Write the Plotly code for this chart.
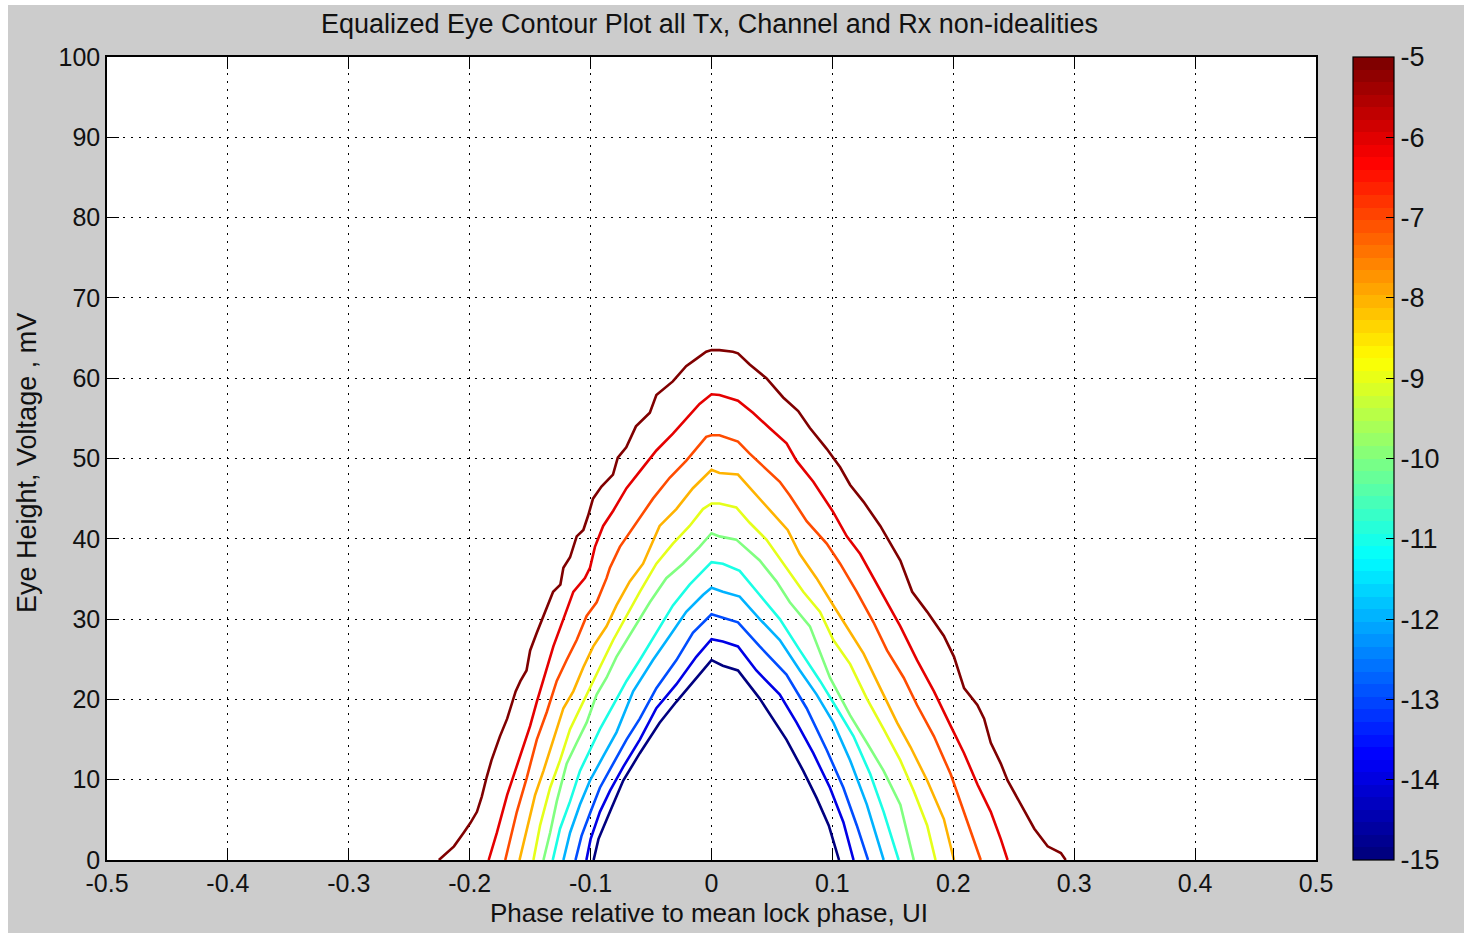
import plotly.graph_objects as go

# ---------------- data ----------------
levels = [-5, -6, -7, -8, -9, -10, -11, -12, -13, -14, -15]

x_ticks = [-0.5, -0.4, -0.3, -0.2, -0.1, 0, 0.1, 0.2, 0.3, 0.4, 0.5]
x_tick_text = ["-0.5", "-0.4", "-0.3", "-0.2", "-0.1", "0", "0.1", "0.2", "0.3", "0.4", "0.5"]
y_ticks = [0, 10, 20, 30, 40, 50, 60, 70, 80, 90, 100]
y_tick_text = ["0", "10", "20", "30", "40", "50", "60", "70", "80", "90", "100"]
cb_ticks = [-5, -6, -7, -8, -9, -10, -11, -12, -13, -14, -15]
cb_tick_text = ["-5", "-6", "-7", "-8", "-9", "-10", "-11", "-12", "-13", "-14", "-15"]

# contour level -5
x_m5 = [-0.2255, -0.213, -0.205, -0.1995, -0.194, -0.19, -0.186, -0.182, -0.175, -0.169, -0.162, -0.158,
        -0.153, -0.15, -0.1445, -0.139, -0.135, -0.131, -0.125, -0.1225, -0.117, -0.1115, -0.106, -0.102,
        -0.098, -0.091, -0.0815, -0.0775, -0.0705, -0.0625, -0.051, -0.0456, -0.032, -0.021, -0.0126,
        -0.0044, 0.0,
        0.0066, 0.0177, 0.0219, 0.0316, 0.0454, 0.0593, 0.0717, 0.0814, 0.0953, 0.1064, 0.1147, 0.1258,
        0.1396, 0.1562, 0.166, 0.1784, 0.1922, 0.2006, 0.2089, 0.2199, 0.2255, 0.231, 0.2393, 0.2449,
        0.256, 0.267, 0.278, 0.289, 0.293]
y_m5 = [0, 1.7, 3.4, 4.6, 6, 7.9, 10.3, 12.4, 15.4, 17.6, 21, 22.3,
        23.6, 26.1, 28.3, 30.4, 31.7, 33.4, 34.3, 36.4, 37.7, 40.3, 41.1, 42.9,
        45, 46.5, 48, 50.1, 51.4, 54, 55.7, 57.9, 59.6, 61.5, 62.4,
        63.3, 63.5,
        63.5, 63.3, 63.1, 61.7, 60, 57.6, 55.9, 53.8, 51.2, 48.9, 46.7, 44.6,
        41.6, 37.3, 33.4, 30.9, 27.9, 25.3, 21.4, 19.3, 17.6, 14.6, 12, 9.9,
        6.9, 3.9, 1.7, 0.86, 0]

# contour level -6
x_m6 = [-0.1843, -0.1775, -0.169, -0.1596, -0.15, -0.1445, -0.1376, -0.1308, -0.1225, -0.1143, -0.1047,
        -0.1005, -0.0964, -0.0896, -0.0813, -0.0703, -0.0593, -0.0456, -0.0319, -0.0209, -0.0099, 0.0,
        0.0066, 0.0219, 0.0343, 0.048, 0.0621, 0.0704, 0.0842, 0.1008, 0.1119, 0.123, 0.134, 0.1452,
        0.1562, 0.17, 0.184, 0.1978, 0.2089, 0.22, 0.231, 0.2393, 0.2449]
y_m6 = [0, 3.4, 8.1, 12.4, 16.7, 19.7, 23.1, 26.6, 30, 33.4, 35.1,
        36.4, 39, 41.6, 43.5, 46.3, 48.4, 51, 53.1, 54.9, 56.8, 58,
        57.9, 57.2, 55.7, 53.8, 51.9, 49.7, 47.1, 43.3, 40.3, 38.1, 35.1, 32.1,
        29.1, 24.9, 21, 16.7, 13.3, 9.4, 6, 2.6, 0]

# contour level -7
x_m7 = [-0.1706, -0.1665, -0.161, -0.1527, -0.1445, -0.1363, -0.128, -0.1198, -0.1115, -0.1033, -0.095,
        -0.0868, -0.084, -0.0758, -0.062, -0.0484, -0.0346, -0.021, -0.0044, 0.0,
        0.0066, 0.0219, 0.0316, 0.0454, 0.0565, 0.0648, 0.0787, 0.0953, 0.1064, 0.1202, 0.134, 0.1452,
        0.159, 0.17, 0.184, 0.1978, 0.2089, 0.2172, 0.2227]
y_m7 = [0, 2.6, 6, 10.3, 15, 18.4, 22.3, 24.9, 27.4, 30.4, 32.1,
        35.1, 36.4, 39, 42, 45, 47.6, 49.7, 52.7, 52.9,
        52.9, 52.1, 50.6, 48.6, 47.1, 45.4, 42.2, 39.4, 36.9, 33.4, 29.6, 26.1,
        22.7, 19.3, 15.4, 10.7, 6, 2.6, 0]

# contour level -8
x_m8 = [-0.1588, -0.1527, -0.1459, -0.139, -0.1308, -0.1225, -0.1143, -0.106, -0.0978, -0.0868, -0.0786,
        -0.0676, -0.0566, -0.0429, -0.0291, -0.0154, 0.0,
        0.0066, 0.0219, 0.0343, 0.048, 0.063, 0.073, 0.0869, 0.1008, 0.1119, 0.1258, 0.1396, 0.1535,
        0.1645, 0.1784, 0.1922, 0.2006]
y_m8 = [0, 3.9, 8.1, 11.1, 15, 18.9, 21, 24, 26.6, 29.1, 31.7,
        34.7, 36.9, 41.6, 43.7, 46.3, 48.6,
        48.2, 48, 45.9, 43.7, 41.1, 38.1, 35.1, 31.7, 29.1, 25.7, 21.4, 17.1,
        14.1, 9.9, 5.1, 0]

# contour level -9
x_m9 = [-0.1473, -0.1418, -0.1335, -0.1253, -0.117, -0.1088, -0.1005, -0.0923, -0.0813, -0.0703, -0.0593,
        -0.0456, -0.0319, -0.0181, -0.0071, 0.0,
        0.0066, 0.0205, 0.0316, 0.0454, 0.062, 0.0759, 0.0898, 0.1008, 0.1147, 0.1285, 0.1424, 0.1562,
        0.1673, 0.1784, 0.1853]
y_m9 = [0, 4.3, 9, 12.4, 16.3, 18.9, 21.4, 24, 27.4, 30.4, 33.4,
        36.9, 39.4, 41.6, 43.7, 44.4,
        44.4, 43.9, 42, 39.9, 36.4, 33.4, 30.9, 27.4, 24.4, 20.1, 16.3, 12.4,
        8.6, 4.3, 0]

# contour level -10
x_m10 = [-0.139, -0.1335, -0.128, -0.1198, -0.1115, -0.1033, -0.095, -0.0868, -0.0786, -0.0648, -0.051,
         -0.0374, -0.0236, -0.0099, 0.0,
         0.0066, 0.0205, 0.0399, 0.0537, 0.0648, 0.0814, 0.098, 0.1147, 0.1285, 0.1424, 0.1562, 0.1673]
y_m10 = [0, 3.4, 7.3, 12, 14.6, 17.1, 20.6, 22.7, 25.3, 28.7, 32.1,
         35.1, 36.9, 39, 40.7,
         40.3, 39.9, 37.3, 34.7, 32.1, 29.1, 22.7, 18, 14.6, 11.1, 6.9, 0]

# contour level -11
x_m11 = [-0.1313, -0.1253, -0.117, -0.1088, -0.1005, -0.0923, -0.0813, -0.0703, -0.0593, -0.0456, -0.0319,
         -0.0181, -0.0071, 0.0,
         0.0094, 0.0233, 0.0399, 0.0565, 0.0731, 0.0898, 0.1036, 0.1175, 0.1313, 0.1424, 0.1548]
y_m11 = [0, 3.9, 7.3, 11.1, 13.7, 16.3, 19.3, 22.3, 24.9, 28.3, 31.7,
         34.3, 36, 37.1,
         36.9, 36, 33, 30, 26.1, 22.3, 18.9, 15.4, 10.7, 6, 0]

# contour level -12
x_m12 = [-0.1225, -0.117, -0.1088, -0.1005, -0.0896, -0.0786, -0.0648, -0.0484, -0.0346, -0.0209, -0.0071,
         0.0,
         0.0094, 0.0233, 0.0399, 0.0565, 0.0731, 0.087, 0.1008, 0.1147, 0.1285, 0.1424]
y_m12 = [0, 3.4, 6.9, 9.9, 12.9, 15.9, 21, 24.9, 27.9, 30.9, 33,
         33.9,
         33.4, 32.8, 30, 27.4, 23.6, 20.6, 17.1, 12.4, 6.9, 0]

# contour level -13
x_m13 = [-0.1125, -0.1075, -0.1, -0.0923, -0.0813, -0.0703, -0.0593, -0.0456, -0.029, -0.0154, 0.0,
         0.0094, 0.0219, 0.0399, 0.062, 0.0787, 0.0953, 0.1091, 0.1202, 0.1295]
y_m13 = [0, 3, 6, 9, 12, 15, 17.6, 21.4, 24.9, 28.3, 30.6,
         30.2, 29.6, 26.6, 23.1, 18.9, 13.7, 9, 4.3, 0]

# contour level -14
x_m14 = [-0.1035, -0.1, -0.0923, -0.084, -0.073, -0.0593, -0.0456, -0.029, -0.0126, 0.0,
         0.0094, 0.0219, 0.0371, 0.0565, 0.0704, 0.0842, 0.098, 0.1091, 0.1175]
y_m14 = [0, 2.6, 6, 8.6, 11.6, 15, 18.9, 21.9, 25.3, 27.5,
         27.2, 26.6, 23.6, 20.6, 17.1, 13.3, 9, 4.7, 0]

# contour level -15
x_m15 = [-0.0975, -0.0935, -0.084, -0.073, -0.0593, -0.0429, -0.0291, -0.0126, 0.0,
         0.0094, 0.0219, 0.0399, 0.062, 0.0759, 0.087, 0.097, 0.1055]
y_m15 = [0, 2.6, 6, 9.9, 13.3, 17.1, 19.7, 22.7, 24.9,
         24.2, 23.6, 20.1, 15, 11.1, 7.7, 4.3, 0]

contour_x = [x_m5, x_m6, x_m7, x_m8, x_m9, x_m10, x_m11, x_m12, x_m13, x_m14, x_m15]
contour_y = [y_m5, y_m6, y_m7, y_m8, y_m9, y_m10, y_m11, y_m12, y_m13, y_m14, y_m15]

# ---------------- style ----------------
CMIN, CMAX = -15, -5
FONT = "Liberation Sans, Arial, Helvetica, sans-serif"
FS = 27
FS_TICK = 25
TXT = "#111111"
BG = "#cccccc"


def jet(t):
    def c(v):
        return max(0.0, min(1.0, v))
    r = c(1.5 - abs(4 * t - 3))
    g = c(1.5 - abs(4 * t - 2))
    b = c(1.5 - abs(4 * t - 1))
    return "rgb(%d,%d,%d)" % (round(r * 255), round(g * 255), round(b * 255))


N = 64
colorscale = []
for i in range(N):
    col = jet(i / (N - 1))
    colorscale.append([i / N, col])
    colorscale.append([(i + 1) / N, col])

fig = go.Figure()

for lvl, xs, ys in zip(levels, contour_x, contour_y):
    t = (lvl - CMIN) / (CMAX - CMIN)
    fig.add_trace(go.Scatter(
        x=xs, y=ys, mode="lines",
        line=dict(color=jet(t), width=2.6),
        showlegend=False, hoverinfo="skip",
    ))

# colorbar carrier
fig.add_trace(go.Scatter(
    x=[None], y=[None], mode="markers",
    marker=dict(
        color=[CMIN], cmin=CMIN, cmax=CMAX, colorscale=colorscale, showscale=True,
        colorbar=dict(
            x=(1353 - 107) / 1209, xanchor="left", xpad=0,
            y=0.5, yanchor="middle", len=1, lenmode="fraction", ypad=0,
            thickness=41, thicknessmode="pixels",
            outlinecolor="#000000", outlinewidth=1.2,
            tickmode="array", tickvals=cb_ticks, ticktext=cb_tick_text,
            ticks="inside", ticklen=8, tickcolor="#000000", tickwidth=1,
            tickfont=dict(family=FONT, size=FS, color=TXT),
        ),
    ),
    showlegend=False, hoverinfo="skip",
))

axis_common = dict(
    showline=True, linecolor="#000000", linewidth=1.5, mirror="allticks",
    ticks="inside", ticklen=12, tickwidth=1, tickcolor="#000000",
    showgrid=True, gridcolor="#000000", gridwidth=1, griddash="2px,6px",
    zeroline=False, tickfont=dict(family=FONT, size=FS_TICK, color=TXT),
)

fig.update_xaxes(range=[-0.5, 0.5], tickmode="array", tickvals=x_ticks, ticktext=x_tick_text,
                 **axis_common)
fig.update_yaxes(range=[0, 100], tickmode="array", tickvals=y_ticks, ticktext=y_tick_text,
                 **axis_common)

PW, PH = 1209, 803


def px_x(p):
    return (p - 107) / PW


def px_y(p):
    return (860 - p) / PH


fig.update_layout(
    width=1464, height=933,
    margin=dict(l=107, r=148, t=57, b=73, pad=0),
    paper_bgcolor=BG, plot_bgcolor="#ffffff",
    font=dict(family=FONT, size=FS, color=TXT),
    showlegend=False,
    shapes=[
        dict(type="rect", xref="paper", yref="paper", layer="below",
             x0=px_x(-5), x1=px_x(8), y0=px_y(940), y1=px_y(-5),
             fillcolor="#ffffff", line=dict(width=0)),
        dict(type="rect", xref="paper", yref="paper", layer="below",
             x0=px_x(-5), x1=px_x(1470), y0=px_y(5), y1=px_y(-5),
             fillcolor="#ffffff", line=dict(width=0)),
    ],
    annotations=[
        dict(text="Equalized Eye Contour Plot all Tx, Channel and Rx non-idealities",
             xref="paper", yref="paper", x=px_x(709), y=px_y(24),
             xanchor="center", yanchor="middle", showarrow=False,
             font=dict(family=FONT, size=FS, color=TXT)),
        dict(text="Phase relative to mean lock phase, UI",
             xref="paper", yref="paper", x=px_x(709), y=px_y(913),
             xanchor="center", yanchor="middle", showarrow=False,
             font=dict(family=FONT, size=26, color=TXT)),
        dict(text="Eye Height, Voltage , mV",
             xref="paper", yref="paper", x=px_x(27), y=px_y(463),
             xanchor="center", yanchor="middle", showarrow=False, textangle=-90,
             font=dict(family=FONT, size=FS, color=TXT)),
    ],
)

fig.write_html("out.html")
